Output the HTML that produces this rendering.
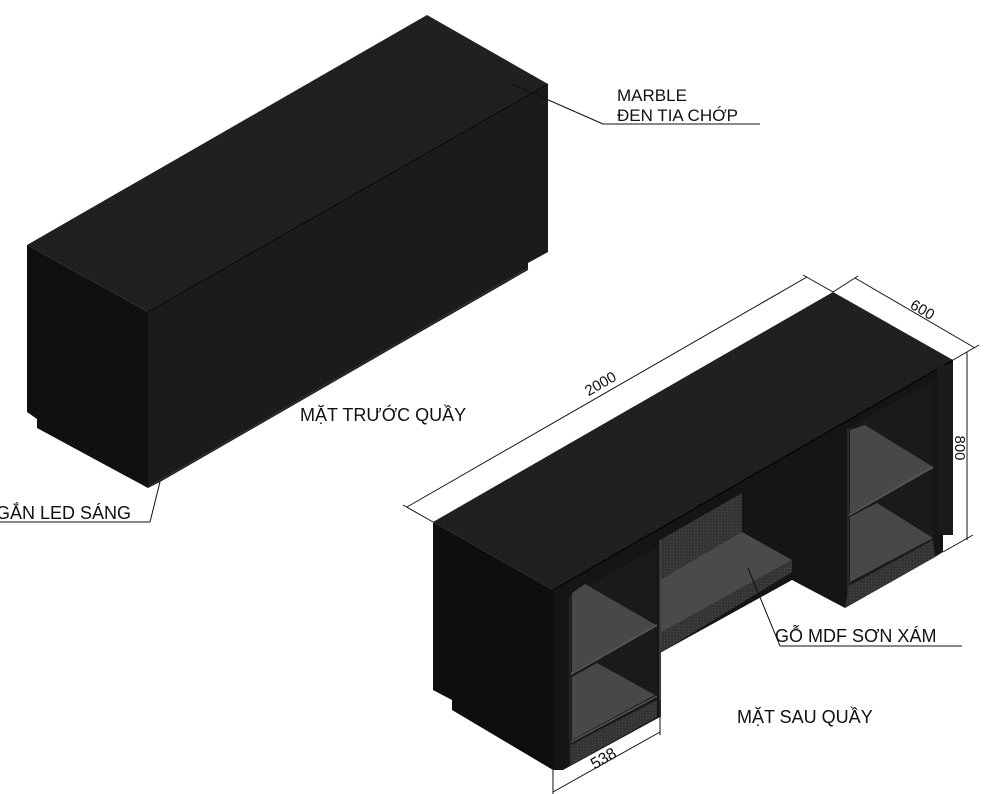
<!DOCTYPE html>
<html><head><meta charset="utf-8"><style>
html,body{margin:0;padding:0;background:#fff;width:1000px;height:794px;overflow:hidden}
svg{display:block}
text{font-family:"Liberation Sans",Arial,sans-serif;fill:#111}
</style></head><body>
<svg width="1000" height="794" viewBox="0 0 1000 794" xmlns="http://www.w3.org/2000/svg">
<defs>
<pattern id="dots" width="4" height="4" patternUnits="userSpaceOnUse">
<rect width="4" height="4" fill="#1f1f1f"/><rect x="1" y="2" width="1" height="1" fill="#2c2c2c"/>
</pattern>
<pattern id="dots2" width="3" height="3" patternUnits="userSpaceOnUse">
<rect width="3" height="3" fill="#343434"/><rect x="1" y="1" width="1" height="1" fill="#4a4a4a"/>
</pattern>
</defs>

<!-- BOX 1 -->
<polygon points="27,245 427,15 548,84 148,312" fill="url(#dots)"/>
<polygon points="148,312 548,84 548,252 528,263 528,270 160,482 148,488" fill="#1b1b1b"/>
<polygon points="27,245 148,312 148,488 37,428 37,419 27,412" fill="#101010"/>
<line x1="148" y1="312" x2="548" y2="84" stroke="#0a0a0a" stroke-width="1"/>
<line x1="150" y1="486" x2="528" y2="268" stroke="#333" stroke-width="1.2"/>

<line x1="512" y1="84" x2="603" y2="124" stroke="#111" stroke-width="1"/>
<line x1="603" y1="124" x2="760" y2="124" stroke="#111" stroke-width="1"/>
<text x="617" y="101" font-size="17">MARBLE</text>
<text x="617" y="121" font-size="17">ĐEN TIA CHỚP</text>

<text x="300" y="421" font-size="18">MẶT TRƯỚC QUẦY</text>

<line x1="160" y1="482" x2="150" y2="522" stroke="#111" stroke-width="1"/>
<line x1="0" y1="522" x2="150" y2="522" stroke="#111" stroke-width="1"/>
<text x="-4" y="519" font-size="18">GẮN LED SÁNG</text>

<!-- BOX 2 -->
<polygon points="433,522 833,292 953,360 553,590" fill="url(#dots)"/>
<polygon points="433,522 553,590 553,770 452,710 452,700 433,690" fill="#0e0e0e"/>
<polygon points="553,590 953,360 953,530 943,535 943,552 935,557 845,608 792,580 660,653 660,717 563,770 553,770" fill="#151515"/>
<line x1="553" y1="590" x2="953" y2="360" stroke="#080808" stroke-width="1.5"/>
<rect x="937" y="365" width="16" height="170" fill="#1b1b1b"/>

<polygon points="571,596 657,547 657,700 571,745" fill="#1a1a1a"/>
<polygon points="572,593 585,584 656,625 572,672" fill="#484848"/>
<polygon points="572,677 597,663 655,695 572,740" fill="#484848"/>
<line x1="571" y1="674" x2="657" y2="625" stroke="#555" stroke-width="2"/>
<polygon points="571,745 657,700 657,717 571,765" fill="url(#dots2)"/>
<line x1="571" y1="742" x2="657" y2="696" stroke="#555" stroke-width="1.5"/>
<line x1="570" y1="596" x2="570" y2="766" stroke="#333" stroke-width="1"/>

<polygon points="660,540 742,493 742,533 660,580" fill="url(#dots2)"/>
<polygon points="660,580 742,532 792,560 660,633" fill="#4a4a4a"/>
<polygon points="660,633 792,560 792,572 660,653" fill="url(#dots2)"/>
<line x1="660" y1="540" x2="660" y2="717" stroke="#3a3a3a" stroke-width="2"/>

<polygon points="849,428 933,381 933,540 849,588" fill="#1a1a1a"/>
<polygon points="850,430 865,425 933,467 850,513" fill="#484848"/>
<polygon points="850,517 877,503 933,538 850,582" fill="#484848"/>
<line x1="849" y1="515" x2="933" y2="467" stroke="#555" stroke-width="2"/>
<polygon points="849,586 933,540 935,557 845,608" fill="url(#dots2)"/>
<line x1="848" y1="428" x2="848" y2="606" stroke="#333" stroke-width="1.5"/>

<g stroke="#111" stroke-width="1" fill="none">
<line x1="407" y1="507" x2="807" y2="277"/>
<line x1="433" y1="522" x2="403" y2="505"/>
<line x1="833" y1="292" x2="803" y2="275"/>
<line x1="855" y1="278" x2="975" y2="348"/>
<line x1="833" y1="292" x2="858" y2="276"/>
<line x1="953" y1="360" x2="979" y2="345"/>
<line x1="967" y1="352" x2="967" y2="540"/>
<line x1="943" y1="552" x2="973" y2="535"/>
<line x1="553" y1="770" x2="553" y2="794"/>
<line x1="660" y1="700" x2="660" y2="735"/>
<line x1="553" y1="792" x2="660" y2="732"/>
<line x1="780" y1="646" x2="748" y2="568"/>
<line x1="780" y1="646" x2="962" y2="646"/>
</g>
<text font-size="15" transform="translate(603,388) rotate(-30)" text-anchor="middle">2000</text>
<text font-size="15" transform="translate(920,314) rotate(30)" text-anchor="middle">600</text>
<text font-size="15" transform="translate(955,448) rotate(90)" text-anchor="middle">800</text>
<text font-size="16" transform="translate(606,763) rotate(-30)" text-anchor="middle">538</text>

<text x="775" y="642" font-size="18">GỖ MDF SƠN XÁM</text>
<text x="737" y="723" font-size="18">MẶT SAU QUẦY</text>
</svg>
</body></html>
